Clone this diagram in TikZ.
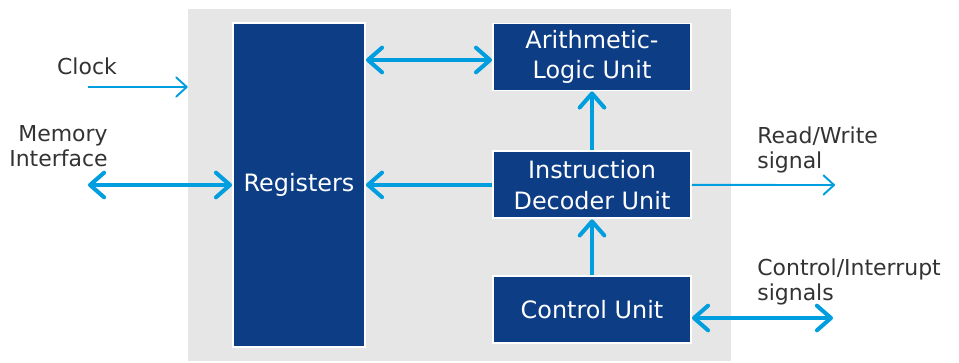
\documentclass[tikz,border=0pt]{standalone}
\usepackage{fontspec}
\setmainfont{DejaVu Sans}
\usetikzlibrary{arrows.meta}
\usetikzlibrary{positioning}
\definecolor{cpublue}{RGB}{13,61,133}
\definecolor{buscyan}{RGB}{0,158,222}
\definecolor{diegray}{RGB}{230,230,230}
\definecolor{labelgray}{RGB}{51,51,51}
\tikzstyle{diebox} = [fill=diegray, draw=none, minimum width=10.86cm, minimum height=7.04cm, inner sep=0pt]
\tikzstyle{unitnode} = [draw=white, line width=1.1pt, fill=cpublue, text=white, align=center, inner sep=0pt, font=\fontsize{13.6}{17.5}\selectfont]
\tikzstyle{sigtext} = [text=labelgray, inner sep=0pt, font=\fontsize{12.5}{14}\selectfont]
\tikzstyle{busline} = [buscyan, line width=2.3pt, >={Straight Barb[round, length=8pt, width=14pt]}]
\tikzstyle{sigline} = [buscyan, line width=1.1pt, >={Straight Barb[round, length=6pt, width=11pt]}]

\begin{document}
\begin{tikzpicture}[x=0.02cm, y=-0.02cm]
  \useasboundingbox (0,0) rectangle (959,362);
  \node[diebox] (die) at (459.5,185) {};

  \node[unitnode, minimum width=2.64cm, minimum height=6.48cm] (reg) at (299,185) {Registers};
  \node[unitnode, minimum width=3.96cm, minimum height=1.34cm] (alu) at (592,57) {Arithmetic-\\Logic Unit};
  \node[unitnode, minimum width=3.96cm, minimum height=1.34cm, below=1.18cm of alu] (idu) {Instruction\\Decoder Unit};
  \node[unitnode, minimum width=3.96cm, minimum height=1.34cm, below=1.12cm of idu] (cu) {Control Unit};

  \node[sigtext] (clklbl) at (87,66) {Clock};
  \node[sigtext, align=right, anchor=east] (memlbl) at (108,146) {Memory\\Interface};
  \node[sigtext, align=left, anchor=west] (rwlbl) at (757,150) {Read/Write\\signal};
  \node[sigtext, align=left, anchor=west] (irqlbl) at (757,282) {Control/Interrupt\\signals};

  \coordinate (clk) at (88,87);
  \coordinate (mem) at (88,185);
  \coordinate (rw) at (835,185);
  \coordinate (irq) at (833,318);

  \draw[sigline, ->] (clk) -- (clk -| die.west);
  \draw[busline, <->] (mem) -- (reg.west);
  \draw[busline, <->] (reg.east |- 0,60) -- (alu.west |- 0,60);
  \draw[busline, ->] (idu.west) -- (idu.west -| reg.east);
  \draw[busline, ->] (idu.north) -- (alu.south);
  \draw[busline, ->] (cu.north) -- (idu.south);
  \draw[sigline, ->] (idu.east) -- (rw);
  \draw[busline, <->] (cu.east |- irq) -- (irq);
\end{tikzpicture}
\end{document}
